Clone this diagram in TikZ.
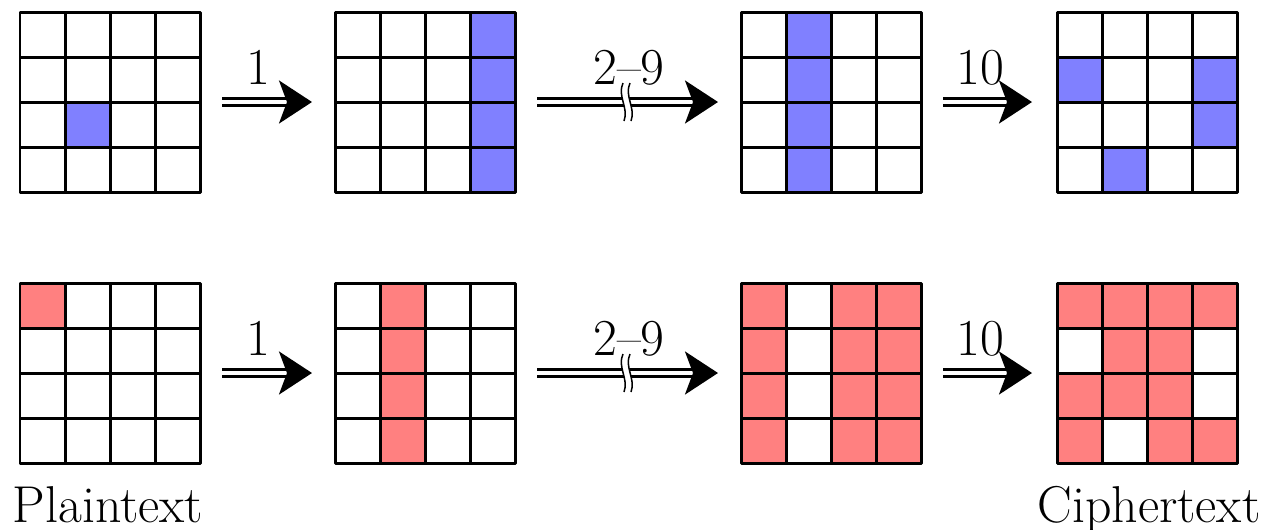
\documentclass[tikz,border=0pt]{standalone}
\usetikzlibrary{arrows.meta}
\definecolor{cblue}{HTML}{8080FF}
\definecolor{cred}{HTML}{FF8080}
\tikzset{
  gridline/.style={line width=0.06cm, line join=round},
  dblarrow/.style={double, double distance=0.075cm, line width=0.06cm,
    -{Stealth[length=0.66cm, width=0.86cm, inset=0.16cm]}},
  lbl/.style={font=\fontsize{29.5}{34}\selectfont, anchor=base, inner sep=0pt},
  brk/.style={line width=0.03cm},
}
\newcommand{\cellgrid}[4]{% x, y (top-left, px), colour, list of col/row
  \foreach \c/\r in {#4} {\fill[#3] ({#1+45*\c},{#2+45*\r}) rectangle ++(45,45);}
  \draw[gridline] (#1,#2) rectangle ++(180,180);
  \foreach \k in {1,2,3} {
    \draw[gridline] ({#1+45*\k},#2) -- ++(0,180);
    \draw[gridline] (#1,{#2+45*\k}) -- ++(180,0);
  }
}
\begin{document}
\begin{tikzpicture}[x=0.02cm, y=-0.02cm]
\useasboundingbox (0,0) rectangle (1271,529);
% top row
\cellgrid{20}{12}{cblue}{1/2}
\cellgrid{335}{12}{cblue}{3/0,3/1,3/2,3/3}
\cellgrid{741}{12}{cblue}{1/0,1/1,1/2,1/3}
\cellgrid{1057}{12}{cblue}{0/1,3/1,3/2,1/3}
% bottom row
\cellgrid{20}{283}{cred}{0/0}
\cellgrid{335}{283}{cred}{1/0,1/1,1/2,1/3}
\cellgrid{741}{283}{cred}{0/0,0/1,0/2,0/3,2/0,2/1,2/2,2/3,3/0,3/1,3/2,3/3}
\cellgrid{1057}{283}{cred}{0/0,1/0,2/0,3/0,1/1,2/1,0/2,1/2,2/2,0/3,2/3,3/3}
% arrows
\foreach \row/\y in {t/102, b/373} {
  \coordinate (a1s\row) at (222,\y);
  \coordinate (a1e\row) at (312,\y);
  \coordinate (a2s\row) at (537,\y);
  \coordinate (a2e\row) at (718,\y);
  \coordinate (a3s\row) at (943,\y);
  \coordinate (a3e\row) at (1032,\y);
  \draw[dblarrow] (a1s\row) -- (a1e\row);
  \draw[dblarrow] (a2s\row) -- (a2e\row);
  \draw[dblarrow] (a3s\row) -- (a3e\row);
  \node[lbl] (l1\row) at (258,{\y-18}) {1};
  \node[lbl] (l2\row) at (629,{\y-18}) {2--9};
  \node[lbl] (l3\row) at (980,{\y-18}) {10};
  % break mark
  \fill[white] (623,{\y-19}) .. controls (617,{\y-6}) and (629,{\y+6}) .. (624,{\y+19})
     -- (631,{\y+19}) .. controls (636,{\y+6}) and (624,{\y-6}) .. (630,{\y-19}) -- cycle;
  \draw[brk] (623,{\y-19}) .. controls (617,{\y-6}) and (629,{\y+6}) .. (624,{\y+19});
  \draw[brk] (630,{\y-19}) .. controls (624,{\y-6}) and (636,{\y+6}) .. (631,{\y+19});
}
\node[lbl] (plain) at (108,522) {Plaintext};
\node[lbl] (cipher) at (1149,522) {Ciphertext};
\end{tikzpicture}
\end{document}
